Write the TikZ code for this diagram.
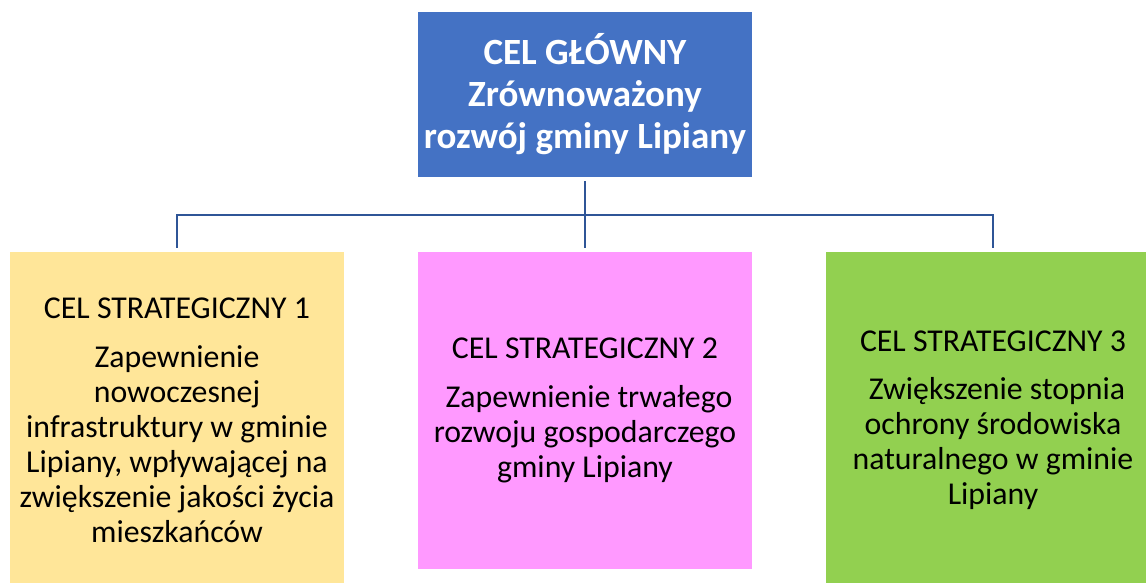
\documentclass[tikz,border=0pt]{standalone}
\usepackage{fontspec}
\setmainfont{Carlito}
\definecolor{topblue}{HTML}{4472C4}
\definecolor{yel}{HTML}{FFE699}
\definecolor{pink}{HTML}{FF99FF}
\definecolor{grn}{HTML}{92D050}
\definecolor{lineblue}{HTML}{2F5597}
\begin{document}
\begin{tikzpicture}[x=1pt,y=1pt,
  box/.style={draw=none, inner sep=0pt, align=center, anchor=center},
  goal/.style={box, minimum width=334pt, font=\fontsize{31.8}{35}\selectfont},
  conn/.style={draw=lineblue, line width=2.8pt, shorten <=4pt, shorten >=4pt}]
\useasboundingbox (0,0) rectangle (1146,-583);
\clip (0,0) rectangle (1146,-583);
\node[box, fill=topblue, text=white, minimum width=334pt, minimum height=165pt,
  font=\fontsize{37}{42}\selectfont\bfseries] (top) at (585,-94.5)
  {CEL GŁÓWNY\\Zrównoważony\\rozwój gminy Lipiany};
\node[goal, fill=yel, minimum height=336pt] (b1) at (177,-420)
  {CEL STRATEGICZNY 1\\[14pt]Zapewnienie\\nowoczesnej\\infrastruktury w gminie\\Lipiany, wpływającej na\\zwiększenie jakości życia\\mieszkańców};
\node[goal, fill=pink, minimum height=317pt] (b2) at (585,-410.5)
  {CEL STRATEGICZNY 2\\[14pt]\hspace*{0.25em}Zapewnienie trwałego\\rozwoju gospodarczego\\gminy Lipiany};
\node[goal, fill=grn, minimum height=336pt] (b3) at (993,-420)
  {CEL STRATEGICZNY 3\\[13pt]\hspace*{0.25em}Zwiększenie stopnia\\ochrony środowiska\\naturalnego w gminie\\Lipiany};
\coordinate (hub) at (585,-215);
\draw[conn] (top.south) -- (b2.north);
\draw[conn, line join=miter] (b1.north) -- (b1.north |- hub) -- (b3.north |- hub) -- (b3.north);
\end{tikzpicture}
\end{document}
